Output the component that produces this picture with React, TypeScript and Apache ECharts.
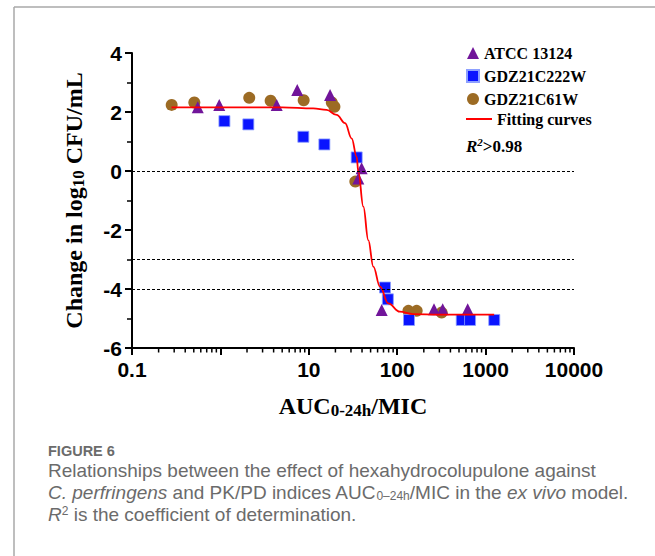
import React, { useEffect, useRef } from "react";
import * as echarts from "echarts";

const ATCC_13124: number[][] = [
  [0.554, 2.16], [0.97, 2.24], [4.33, 2.24], [7.4, 2.75], [17.4, 2.58],
  [36.3, -0.25], [39.6, 0.09], [66.8, -4.71], [261, -4.69], [327, -4.69], [627, -4.69],
];
const GDZ21C222W: number[][] = [
  [1.11, 1.69], [2.07, 1.58], [8.67, 1.16], [15.0, 0.9], [34.8, 0.46],
  [72.8, -3.95], [78.4, -4.35], [136, -5.05], [537, -5.05], [667, -5.05], [1253, -5.05],
];
const GDZ21C61W: number[][] = [
  [0.281, 2.24], [0.507, 2.32], [2.12, 2.48], [3.7, 2.38], [8.75, 2.4],
  [18.2, 2.32], [19.5, 2.18], [33.6, -0.36], [134, -4.74], [166, -4.74], [318, -4.8],
];
const FITTING_CURVE: number[][] = [
  [0.28, 2.16], [1, 2.16], [5, 2.16], [11.2, 2.12], [15.9, 2.07], [20.7, 1.9],
  [25.7, 1.62], [30.6, 1.1], [34.8, 0.48], [36.3, -0.02], [41.4, -1.21],
  [47.1, -2.34], [53.7, -3.24], [63.9, -3.92], [79.3, -4.49], [107, -4.77],
  [151, -4.85], [300, -4.87], [1250, -4.87],
];
const REFERENCE_LINES: number[] = [0, -3, -4];
const X_DECADES: number[] = [0.1, 1, 10, 100, 1000];
const X_MINOR_MULTIPLIERS: number[] = [2, 3, 4, 5, 6, 7, 8, 9];
const X_HIDDEN_LABELS: number[] = [1];

const SERIF = "'Liberation Serif', 'Times New Roman', serif";
const SANS = "'Liberation Sans', Arial, sans-serif";
const CAPTION_FONT = "'Liberation Sans', Arial, sans-serif";
const CAPTION_COLOR = "#6b6b6b";
const CAPTION_SIZE = 19;

export default function App() {
  const ref = useRef<HTMLDivElement>(null);

  useEffect(() => {
    if (!ref.current) return;
    const chart = echarts.init(ref.current, undefined, { renderer: "svg" });

    const minorTicks: number[][] = [];
    X_DECADES.forEach((d) => X_MINOR_MULTIPLIERS.forEach((m) => minorTicks.push([d * m, -6])));

    const capN = { fontFamily: CAPTION_FONT, fontSize: CAPTION_SIZE, lineHeight: 20, fill: CAPTION_COLOR };
    const capI = { ...capN, fontStyle: "italic" };

    const option: any = {
      animation: false,
      backgroundColor: "#ffffff",
      grid: { left: 132, top: 53, width: 442, height: 295, containLabel: false },
      legend: [
        {
          data: ["ATCC 13124", "GDZ21C222W", "GDZ21C61W"],
          orient: "vertical",
          left: 466,
          top: 44,
          itemWidth: 12,
          itemHeight: 12,
          itemGap: 5,
          padding: 0,
          textStyle: { fontFamily: SERIF, fontWeight: "bold", fontSize: 16, lineHeight: 18, color: "#000" },
        },
        {
          data: [{ name: "Fitting curves", icon: "rect" }],
          left: 466,
          top: 110,
          itemWidth: 26,
          itemHeight: 2,
          padding: 0,
          textStyle: { fontFamily: SERIF, fontWeight: "bold", fontSize: 16, lineHeight: 18, color: "#000" },
        },
      ],
      xAxis: {
        type: "log",
        logBase: 10,
        min: 0.1,
        max: 10000,
        name: "{m|AUC}{s|0-24h}{m|/MIC}",
        nameLocation: "middle",
        nameGap: 44,
        nameTextStyle: {
          rich: {
            m: { fontFamily: SERIF, fontWeight: "bold", fontSize: 24, color: "#000" },
            s: { fontFamily: SERIF, fontWeight: "bold", fontSize: 17, color: "#000", padding: [10, 0, 0, 0] },
          },
        },
        axisLine: { show: true, onZero: false, lineStyle: { color: "#000", width: 2 } },
        axisTick: { show: true, length: 7, lineStyle: { color: "#000", width: 2 } },
        axisLabel: {
          margin: 11,
          fontFamily: SANS,
          fontWeight: "bold",
          fontSize: 21,
          color: "#000",
          formatter: (v: number) => (X_HIDDEN_LABELS.includes(v) ? "" : String(v)),
        },
        splitLine: { show: false },
      },
      yAxis: {
        type: "value",
        min: -6,
        max: 4,
        interval: 2,
        name: "{m|Change in log}{s|10}{m| CFU/mL}",
        nameLocation: "middle",
        nameGap: 45,
        nameRotate: 90,
        nameTextStyle: {
          rich: {
            m: { fontFamily: SERIF, fontWeight: "bold", fontSize: 24, color: "#000" },
            s: { fontFamily: SERIF, fontWeight: "bold", fontSize: 17, color: "#000", padding: [10, 0, 0, 0] },
          },
        },
        axisLine: { show: true, onZero: false, lineStyle: { color: "#000", width: 2 } },
        axisTick: { show: true, length: 7, lineStyle: { color: "#000", width: 2 } },
        minorTick: { show: true, splitNumber: 2, length: 5, lineStyle: { color: "#000", width: 1.5 } },
        axisLabel: { margin: 10, fontFamily: SANS, fontWeight: "bold", fontSize: 21, color: "#000" },
        splitLine: { show: false },
      },
      series: [
        {
          name: "Fitting curves",
          type: "line",
          data: FITTING_CURVE,
          smooth: 0.4,
          smoothMonotone: "x",
          symbol: "none",
          lineStyle: { color: "#ff0000", width: 1.8 },
          itemStyle: { color: "#ff0000" },
          z: 3,
          markLine: {
            silent: true,
            symbol: "none",
            label: { show: false },
            lineStyle: { type: [3, 2], color: "#000", width: 1 },
            data: REFERENCE_LINES.map((v) => ({ yAxis: v })),
          },
        },
        {
          name: "GDZ21C61W",
          type: "scatter",
          data: GDZ21C61W,
          symbol: "circle",
          symbolSize: 12,
          itemStyle: { color: "#9c6b24", opacity: 1 },
          z: 2,
        },
        {
          name: "GDZ21C222W",
          type: "scatter",
          data: GDZ21C222W,
          symbol: "rect",
          symbolSize: 11,
          itemStyle: { color: "#0a14ff", borderColor: "#8da0ff", borderWidth: 0.8, opacity: 1 },
          z: 2,
        },
        {
          name: "ATCC 13124",
          type: "scatter",
          data: ATCC_13124,
          symbol: "triangle",
          symbolSize: 12,
          itemStyle: { color: "#71159a", opacity: 1 },
          z: 2,
        },
        {
          name: "minorTicks",
          type: "custom",
          silent: true,
          data: minorTicks,
          renderItem: (_p: any, api: any) => {
            const pt = api.coord([api.value(0), api.value(1)]);
            return {
              type: "line",
              shape: { x1: pt[0], y1: pt[1], x2: pt[0], y2: pt[1] + 4.5 },
              style: { stroke: "#000", lineWidth: 1.5 },
            };
          },
          z: 1,
        },
      ],
      graphic: [
        { type: "line", shape: { x1: 14, y1: 7, x2: 655, y2: 7 }, style: { stroke: "#a8a8a8", lineWidth: 1.5 } },
        { type: "line", shape: { x1: 14, y1: 7, x2: 14, y2: 556 }, style: { stroke: "#a8a8a8", lineWidth: 1.5 } },
        {
          type: "text",
          left: 466,
          top: 136,
          style: {
            text: "{r|R}{s|2}{t|>0.98}",
            rich: {
              r: { fontFamily: SERIF, fontWeight: "bold", fontStyle: "italic", fontSize: 17, fill: "#000" },
              s: { fontFamily: SERIF, fontWeight: "bold", fontStyle: "italic", fontSize: 11, fill: "#000", padding: [0, 0, 9, 0] },
              t: { fontFamily: SERIF, fontWeight: "bold", fontSize: 17, fill: "#000" },
            },
          },
        },
        {
          type: "text",
          x: 48,
          y: 451,
          style: {
            text: "FIGURE 6",
            fontFamily: CAPTION_FONT,
            fontWeight: "bold",
            fontSize: 14.5,
            lineHeight: 15,
            fill: CAPTION_COLOR,
            verticalAlign: "middle",
          },
        },
        {
          type: "text",
          x: 48,
          y: 470,
          style: {
            text: "Relationships between the effect of hexahydrocolupulone against",
            ...capN,
            verticalAlign: "middle",
          },
        },
        {
          type: "text",
          x: 48,
          y: 492,
          style: {
            text: "{i|C. perfringens}{n| and PK/PD indices AUC}{sub|0–24h}{n|/MIC in the }{i|ex vivo}{n| model.}",
            verticalAlign: "middle",
            rich: {
              n: capN,
              i: capI,
              sub: { fontFamily: CAPTION_FONT, fontSize: 12, lineHeight: 12, fill: CAPTION_COLOR, padding: [8, 0, 0, 0] },
            },
          },
        },
        {
          type: "text",
          x: 48,
          y: 514,
          style: {
            text: "{i|R}{sup|2}{n| is the coefficient of determination.}",
            verticalAlign: "middle",
            rich: {
              n: capN,
              i: capI,
              sup: { fontFamily: CAPTION_FONT, fontSize: 12, lineHeight: 12, fill: CAPTION_COLOR, padding: [0, 0, 7, 0] },
            },
          },
        },
      ],
    };

    chart.setOption(option);
    return () => chart.dispose();
  }, []);

  return (
    <div
      ref={ref}
      style={{ position: "absolute", left: 0, top: 0, width: 655, height: 556, background: "#fff" }}
    />
  );
}
